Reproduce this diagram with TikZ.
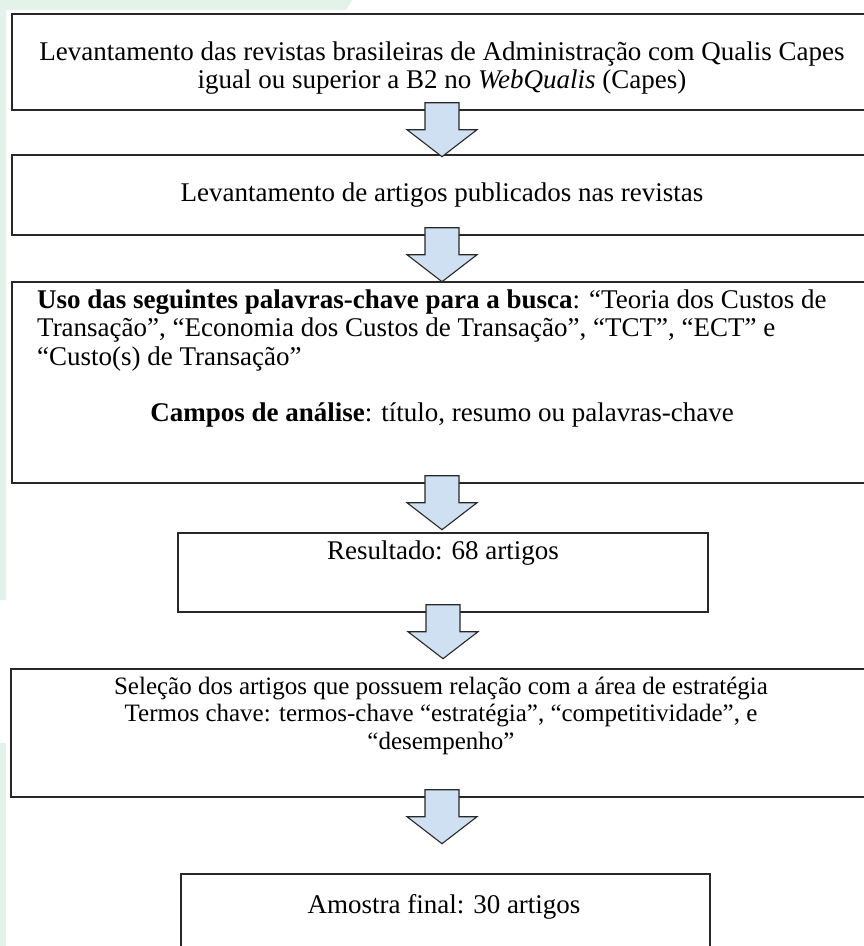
\documentclass[tikz,border=0pt]{standalone}
\usepackage{fontspec}
\setmainfont{Liberation Serif}
\usetikzlibrary{positioning}

\definecolor{arrowblue}{RGB}{207,224,242}
\definecolor{mint}{RGB}{227,243,234}
\definecolor{boxline}{RGB}{40,40,40}

\tikzset{
  box/.style={draw=boxline, line width=1.4pt, minimum width=860, inner sep=0pt},
  txt/.style={font=\fontsize{27}{28.5}\selectfont, inner sep=0pt, align=center, anchor=north},
  arrowbox/.style={draw=boxline, line width=1.1pt, fill=arrowblue, line join=miter}
}

% block arrow hanging below a box
\newcommand{\flowarrow}[1]{%
  \draw[arrowbox] ([xshift=-17pt,yshift=8pt]#1.south) -- ++(0,27) -- ++(-18,0)
    -- ++(35,27) -- ++(35,-27) -- ++(-18,0) -- ++(0,-27) -- cycle;}

\begin{document}
\begin{tikzpicture}[x=1pt, y=-1pt]
\useasboundingbox (0,0) rectangle (863,946);
\fill[white] (0,0) rectangle (863,946);
\fill[mint] (0,0) -- (352,0) -- (346,10) -- (6,10) -- (6,600) -- (0,600) -- cycle;
\fill[mint] (0,743) rectangle (6,946);

% boxes
\node[box, minimum height=96] (b1) at (442,62) {};
\node[box, minimum height=80] (b2) at (442,195) {};
\node[box, minimum height=201] (b3) at (442,382.5) {};
\node[box, minimum width=530, minimum height=79] (b4) at (443,572.5) {};
\node[box, minimum width=862, minimum height=128] (b5) at (442,733) {};
\node[box, minimum width=529, minimum height=80] (b6) at (445.5,914) {};

% texts
\node[txt] (t1) at (442,40) {\strut Levantamento das revistas brasileiras de Administração com Qualis Capes\\igual ou superior a B2 no \textit{WebQualis} (Capes)};
\node[txt] (t2) at (442,181.4) {\strut Levantamento de artigos publicados nas revistas};
\node[txt, align=left, anchor=north west] (t3) at (37,288) {\strut\textbf{Uso das seguintes palavras-chave para a busca}: “Teoria dos Custos de\\Transação”, “Economia dos Custos de Transação”, “TCT”, “ECT” e\\“Custo(s) de Transação”};
\node[txt] (t3b) at (442,401.4) {\strut\textbf{Campos de análise}: título, resumo ou palavras-chave};
\node[txt] (t4) at (443,539.4) {\strut Resultado: 68 artigos};
\node[txt, font=\fontsize{25}{27.5}\selectfont] (t5) at (441,675) {\strut Seleção dos artigos que possuem relação com a área de estratégia\\Termos chave: termos-chave “estratégia”, “competitividade”, e\\“desempenho”};
\node[txt] (t6) at (444,893.4) {\strut Amostra final: 30 artigos};

% arrows
\flowarrow{b1}
\flowarrow{b2}
\flowarrow{b3}
\flowarrow{b4}
\flowarrow{b5}
\end{tikzpicture}
\end{document}
